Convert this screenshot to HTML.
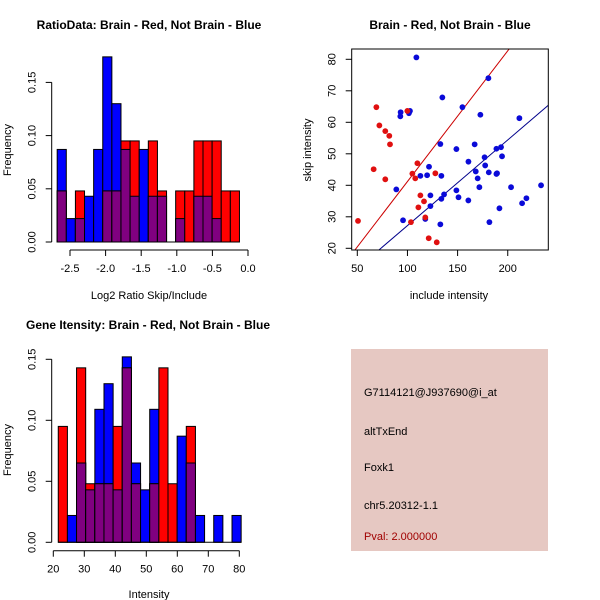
<!DOCTYPE html>
<html><head><meta charset="utf-8"><style>
body{margin:0;background:#fff}
svg{display:block;font-family:"Liberation Sans",sans-serif}
</style></head><body>
<svg id="c" width="600" height="600" viewBox="0 0 600 600" xmlns="http://www.w3.org/2000/svg"></svg>
<script>
// ---- top-left histogram data ----
const ratioBlue = [0.087,0.022,0.022,0.043,0.087,0.174,0.130,0.087,0.043,0.087,0.043,0.043,0,0.022,0,0.043,0.043,0.022,0,0];
const ratioRed  = [0.048,0,0.048,0,0,0.048,0.048,0.095,0.095,0,0.095,0.048,0,0.048,0.048,0.095,0.095,0.095,0.048,0.048];
const ratioXTicks = [-2.5,-2.0,-1.5,-1.0,-0.5,0.0];
const ratioXTickLabels = ["-2.5","-2.0","-1.5","-1.0","-0.5","0.0"];
const ratioYTicks = [0,0.05,0.10,0.15];
const ratioYTickLabels = ["0.00","0.05","0.10","0.15"];
const ratioBinStart = -2.68, ratioBinWidth = 0.128;
// ---- bottom-left histogram data ----
const intBlue = [0,0.022,0.065,0.043,0.109,0.130,0.043,0.152,0.065,0.043,0.109,0,0,0.087,0.065,0.022,0,0.022,0,0.022];
const intRed  = [0.095,0,0.143,0.048,0.048,0.048,0.095,0.143,0.048,0,0.048,0.143,0.048,0,0.095,0,0,0,0,0];
const intXTicks = [20,30,40,50,60,70,80];
const intYTicks = [0,0.05,0.10,0.15];
const intYTickLabels = ["0.00","0.05","0.10","0.15"];
const intBinStart = 21.6, intBinWidth = 2.95;
// ---- scatter data ----
const blueX = [108.9,93.2,92.9,102.5,101.5,134.8,154.8,172.7,180.7,211.6,132.8,148.8,167,188.7,193.3,194.3,176.9,160.8,177.5,168.1,181.1,188.7,189.3,170,121.5,112.9,119.6,133.8,171.7,203.3,233.2,88.9,148.8,136.5,122.9,150.9,133.8,160.7,214.3,218.6,191.7,122.9,95.6,117.8,132.8,181.7];
const blueY = [80.6,63.2,61.9,63.6,62.9,67.9,64.8,62.4,74.0,61.3,53.1,51.5,53,51.6,52.1,49.2,48.9,47.5,46.3,44.4,44.1,43.6,43.8,42.2,45.9,43,43.2,43,39.4,39.4,40,38.7,38.4,37.1,36.8,36.2,35.7,35.2,34.3,35.9,32.7,33.4,28.9,29.3,27.6,28.3];
const redX = [50.7,69,72,77.9,81.9,82.6,66.3,77.9,99.9,109.9,104.9,107.8,127.8,112.9,116.5,110.9,117.8,103.5,121.2,129.2];
const redY = [28.7,64.8,59,57.2,55.7,53,45.1,41.9,63.6,47,43.7,42.2,43.8,36.8,34.9,33,29.8,28.3,23.2,21.9];
const lineSlopes = [0.415,0.272];
const lineIntercepts = [-0.3,0];
const scatterXTicks = [50,100,150,200];
const scatterYTicks = [20,30,40,50,60,70,80];
// ---- info panel ----
const infoLines = ["G7114121@J937690@i_at","altTxEnd","Foxk1","chr5.20312-1.1"];
const pvalText = "Pval: 2.000000";

const NS="http://www.w3.org/2000/svg";
const svg=document.getElementById('c');
function mk(tag,attrs,parent){const e=document.createElementNS(NS,tag);for(const k in attrs)e.setAttribute(k,attrs[k]);(parent||svg).appendChild(e);return e;}
function txt(s,attrs,parent){const e=mk('text',attrs,parent);e.textContent=s;return e;}

function hist(g,blue,red,binStart,binW,sx,sy){
  for(let i=0;i<blue.length;i++){
    const x0=sx(binStart+i*binW),x1=sx(binStart+(i+1)*binW);
    const lo=Math.min(blue[i],red[i]);
    [[blue[i],'#0000ff','blue'],[red[i],'#ff0000','red'],[lo,'#800080','overlap']].forEach(([v,col,nm])=>{
      if(v<=0)return;
      const r=mk('rect',{x:x0,y:sy(v),width:x1-x0,height:sy(0)-sy(v),fill:col,stroke:'#000','stroke-width':1},g);
      
      
    });
  }
  const n=blue.length;
  mk('line',{x1:sx(binStart),x2:sx(binStart+n*binW),y1:sy(0),y2:sy(0),stroke:'#000'},g);
}
function axes(g,xt,xl,yt,yl,sx,sy,xAxisY,yAxisX){
  const xa=mk('g',{},g);
  mk('line',{x1:sx(xt[0]),x2:sx(xt[xt.length-1]),y1:xAxisY,y2:xAxisY,stroke:'#000'},xa);
  xt.forEach((t,i)=>{mk('line',{x1:sx(t),x2:sx(t),y1:xAxisY,y2:xAxisY+6,stroke:'#000'},xa);
    txt(xl[i],{x:sx(t),y:xAxisY+22,'font-size':11,'text-anchor':'middle'},xa);});
  const ya=mk('g',{},g);
  mk('line',{x1:yAxisX,x2:yAxisX,y1:sy(yt[0]),y2:sy(yt[yt.length-1]),stroke:'#000'},ya);
  yt.forEach((t,i)=>{mk('line',{x1:yAxisX,x2:yAxisX-6,y1:sy(t),y2:sy(t),stroke:'#000'},ya);
    txt(yl[i],{x:0,y:0,'font-size':11,'text-anchor':'middle',transform:`translate(${yAxisX-16},${sy(t)}) rotate(-90)`},ya);});
}

// Top-left
{
 const g=mk('g',{});
 const sx=v=>70+(v+2.5)*71.2, sy=v=>242-v*1064;
 hist(g,ratioBlue,ratioRed,ratioBinStart,ratioBinWidth,sx,sy);
 axes(g,ratioXTicks,ratioXTickLabels,ratioYTicks,ratioYTickLabels,sx,sy,250,51.7);
 const t=txt('RatioData: Brain - Red, Not Brain - Blue',{x:149,y:29,'font-size':12,'font-weight':'bold','text-anchor':'middle'},g);
 
 const xl=txt('Log2 Ratio Skip/Include',{x:149,y:299,'font-size':11,'text-anchor':'middle'},g);
 
 const yl=txt('Frequency',{x:0,y:0,'font-size':11,'text-anchor':'middle',transform:'translate(11,150) rotate(-90)'},g);
 
}
// Bottom-left
{
 const g=mk('g',{});
 const sx=v=>53.3+(v-20)*3.1, sy=v=>542.3-v*1220;
 hist(g,intBlue,intRed,intBinStart,intBinWidth,sx,sy);
 axes(g,intXTicks,intXTicks.map(String),intYTicks,intYTickLabels,sx,sy,550.7,51.7);
 const t=txt('Gene Itensity: Brain - Red, Not Brain - Blue',{x:148,y:329,'font-size':12,'font-weight':'bold','text-anchor':'middle'},g);
 
 const xl=txt('Intensity',{x:149,y:598,'font-size':11,'text-anchor':'middle'},g);
 
 const yl=txt('Frequency',{x:0,y:0,'font-size':11,'text-anchor':'middle',transform:'translate(11,450) rotate(-90)'},g);
 
}
// Scatter
{
 const g=mk('g',{});
 const L=351.7,R=548.3,T=49,B=250;
 const sx=v=>357.3+(v-50)*1.003, sy=v=>248.3-(v-20)*3.15;
 const defs=mk('defs',{},g);const cp=mk('clipPath',{id:'clipS'},defs);mk('rect',{x:L,y:T,width:R-L,height:B-T},cp);
 const xv0=(L-357.3)/1.003+50, xv1=(R-357.3)/1.003+50;
 const lc=['#cc0000','#00008b'];
 lineSlopes.forEach((m,i)=>{const l=mk('line',{x1:sx(xv0),y1:sy(m*xv0+lineIntercepts[i]),x2:sx(xv1),y2:sy(m*xv1+lineIntercepts[i]),stroke:lc[i],'clip-path':'url(#clipS)'},g);
   });
 blueX.forEach((x,i)=>{const c=mk('circle',{cx:sx(x),cy:sy(blueY[i]),r:2.9,fill:'#0a0ad8'},g);
   });
 redX.forEach((x,i)=>{const c=mk('circle',{cx:sx(x),cy:sy(redY[i]),r:2.9,fill:'#e01010'},g);
   });
 const box=mk('rect',{x:L,y:T,width:R-L,height:B-T,fill:'none',stroke:'#000'},g);
 
 scatterXTicks.forEach(t=>{mk('line',{x1:sx(t),x2:sx(t),y1:B,y2:B+6,stroke:'#000'},g);
   txt(String(t),{x:sx(t),y:B+22,'font-size':11,'text-anchor':'middle'},g);});
 scatterYTicks.forEach(t=>{mk('line',{x1:L,x2:L-6,y1:sy(t),y2:sy(t),stroke:'#000'},g);
   txt(String(t),{x:0,y:0,'font-size':11,'text-anchor':'middle',transform:`translate(${L-16},${sy(t)}) rotate(-90)`},g);});
 const t=txt('Brain - Red, Not Brain - Blue',{x:450,y:29,'font-size':12,'font-weight':'bold','text-anchor':'middle'},g);
 
 const xl=txt('include intensity',{x:449,y:299,'font-size':11,'text-anchor':'middle'},g);
 
 const yl=txt('skip intensity',{x:0,y:0,'font-size':11,'text-anchor':'middle',transform:'translate(311,150) rotate(-90)'},g);
 
}
// Info panel
{
 const g=mk('g',{});
 mk('rect',{x:351,y:349,width:197,height:202,fill:'#e6c8c2'},g);
 const ys=[396,435,471,509];
 infoLines.forEach((s,i)=>{const t=txt(s,{x:364,y:ys[i],'font-size':11,fill:'#000'},g);
   });
 const p=txt(pvalText,{x:364,y:540,'font-size':11,fill:'#a00000'},g);
 
}
</script>
</body></html>
